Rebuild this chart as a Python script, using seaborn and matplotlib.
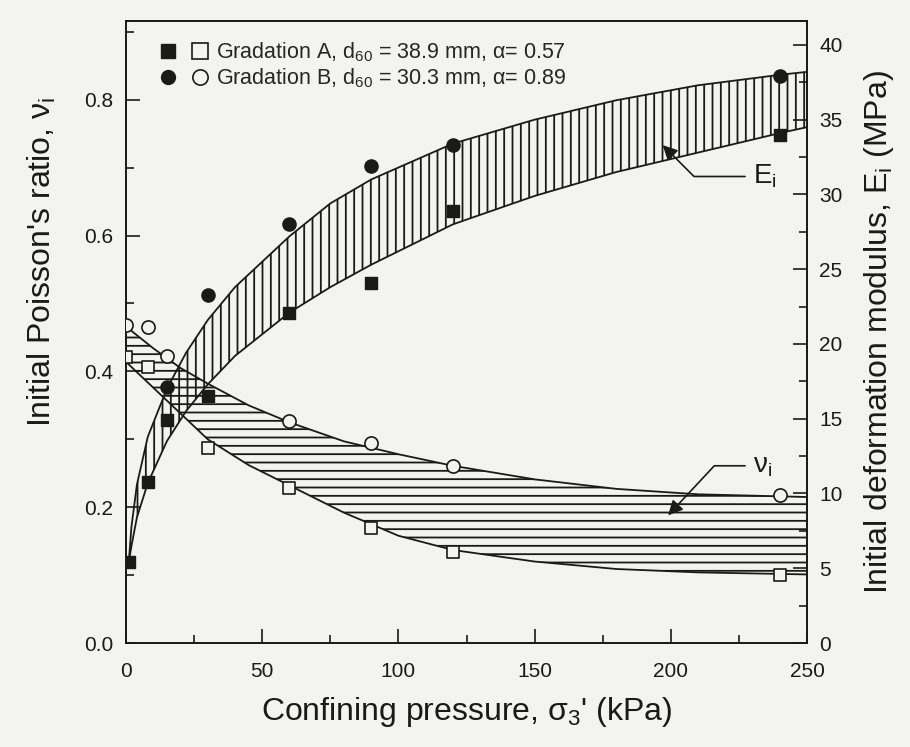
import matplotlib
matplotlib.use("Agg")
import matplotlib.pyplot as plt
import pandas as pd
import seaborn as sns
from matplotlib.legend_handler import HandlerTuple
from matplotlib.lines import Line2D
from matplotlib.ticker import MultipleLocator

# measured points: initial Poisson's ratio (open markers, left axis)
nu_a_x = [0, 8, 30, 60, 90, 120, 240]
nu_a = [0.421, 0.407, 0.287, 0.228, 0.169, 0.134, 0.100]
nu_b_x = [0, 8, 15, 60, 90, 120, 240]
nu_b = [0.468, 0.465, 0.423, 0.327, 0.295, 0.261, 0.218]

# measured points: initial deformation modulus in MPa (filled markers, right axis)
e_a_x = [1, 8, 15, 30, 60, 90, 120, 240]
e_a = [5.4, 10.8, 14.9, 16.5, 22.1, 24.1, 28.9, 34.0]
e_b_x = [15, 30, 60, 90, 120, 240]
e_b = [17.1, 23.3, 28.0, 31.9, 33.3, 37.9]

# band boundaries
e_band_x = [1, 2, 4, 8, 15, 22, 30, 40, 60, 75, 90, 120, 150, 180, 210, 240, 250]
e_band_hi = [5.4, 7.8, 10.6, 13.8, 17.0, 19.4, 21.6, 23.8, 27.2, 29.4, 31.0, 33.4,
             35.0, 36.3, 37.3, 38.0, 38.2]
e_band_lo = [5.4, 6.5, 8.4, 10.7, 13.5, 15.5, 17.3, 19.2, 22.1, 23.8, 25.3, 28.0,
             29.9, 31.5, 32.8, 34.1, 34.5]

nu_band_x = [0, 10, 20, 30, 45, 60, 80, 100, 120, 150, 180, 210, 250]
nu_band_hi = [0.466, 0.434, 0.405, 0.382, 0.350, 0.325, 0.297, 0.278, 0.261, 0.241,
              0.227, 0.219, 0.215]
nu_band_lo = [0.414, 0.376, 0.338, 0.300, 0.262, 0.232, 0.192, 0.158, 0.137, 0.120,
              0.109, 0.104, 0.101]

legend_labels = [
    r"Gradation A, d$_{60}$ = 38.9 mm, $\alpha$= 0.57",
    r"Gradation B, d$_{60}$ = 30.3 mm, $\alpha$= 0.89",
]

BG = "#f3f3f1"
INK = "#1a1a1a"

sns.set_theme(style="ticks")
plt.rcParams["font.family"] = ["Liberation Sans", "DejaVu Sans"]
plt.rcParams["mathtext.default"] = "regular"
plt.rcParams["hatch.linewidth"] = 1.3
plt.rcParams["hatch.color"] = INK

fig, ax = plt.subplots(figsize=(9.1, 7.47), dpi=100)
fig.patch.set_facecolor(BG)
fig.subplots_adjust(left=0.1385, right=0.8868, bottom=0.1392, top=0.9719)
ax2 = ax.twinx()

nu_band = pd.DataFrame({"x": nu_band_x, "hi": nu_band_hi, "lo": nu_band_lo})
e_band = pd.DataFrame({"x": e_band_x, "hi": e_band_hi, "lo": e_band_lo})

# Poisson's ratio band (horizontal hatching)
ax.fill_between(nu_band["x"], nu_band["lo"], nu_band["hi"], facecolor="none",
                edgecolor=INK, hatch="--", linewidth=0)
for col in ["hi", "lo"]:
    sns.lineplot(data=nu_band, x="x", y=col, ax=ax, color=INK, lw=1.3,
                 estimator=None, sort=False, legend=False)

# modulus band (vertical hatching)
ax2.fill_between(e_band["x"], e_band["lo"], e_band["hi"], facecolor="none",
                 edgecolor=INK, hatch="||", linewidth=0)
for col in ["hi", "lo"]:
    sns.lineplot(data=e_band, x="x", y=col, ax=ax2, color=INK, lw=1.3,
                 estimator=None, sort=False, legend=False)

# measured points
sns.scatterplot(x=nu_a_x, y=nu_a, ax=ax, marker="s", s=85,
                color=BG, edgecolor=INK, linewidth=1.2, zorder=6)
sns.scatterplot(x=nu_b_x, y=nu_b, ax=ax, marker="o", s=90,
                color=BG, edgecolor=INK, linewidth=1.2, zorder=6)
sns.scatterplot(x=e_a_x, y=e_a, ax=ax2, marker="s", s=85,
                color=INK, edgecolor=INK, linewidth=1.0, zorder=6)
sns.scatterplot(x=e_b_x, y=e_b, ax=ax2, marker="o", s=90,
                color=INK, edgecolor=INK, linewidth=1.0, zorder=6)
# keep the open markers above the hatching drawn on the twin axes
ax.set_zorder(ax2.get_zorder() + 1)
ax.patch.set_visible(False)

# axes ranges and ticks
ax.set_xlim(0, 250)
ax.set_ylim(0, 0.916)
ax2.set_ylim(0, 41.6)
ax.xaxis.set_major_locator(MultipleLocator(50))
ax.xaxis.set_minor_locator(MultipleLocator(25))
ax.yaxis.set_major_locator(MultipleLocator(0.2))
ax.yaxis.set_minor_locator(MultipleLocator(0.1))
ax2.yaxis.set_major_locator(MultipleLocator(5))
ax2.yaxis.set_minor_locator(MultipleLocator(2.5))
ax.yaxis.set_major_formatter(lambda v, p: f"{v:.1f}")

for a in (ax, ax2):
    for sp in a.spines.values():
        sp.set_linewidth(1.3)
        sp.set_color(INK)
ax.tick_params(which="both", direction="in", width=1.2, colors=INK, top=False, right=False)
ax.tick_params(which="major", length=10, labelsize=15)
ax.tick_params(which="minor", length=6)
ax.tick_params(axis="x", which="major", pad=14)
ax.tick_params(axis="y", which="major", pad=9)
ax2.tick_params(which="both", direction="in", width=1.2, colors=INK, left=False)
ax2.tick_params(which="major", length=10, labelsize=15, pad=9)
ax2.tick_params(which="minor", length=6)

ax.set_xlabel(r"Confining pressure, $\sigma_3$' (kPa)", fontsize=23, labelpad=10, color=INK)
ax.set_ylabel(r"Initial Poisson's ratio, $\nu_i$", fontsize=23, color=INK)
ax.yaxis.set_label_coords(-0.100, 0.612)
ax2.set_ylabel(r"Initial deformation modulus, $E_i$ (MPa)", fontsize=23, labelpad=14,
               color=INK)

# legend: filled marker for modulus, open marker for Poisson's ratio
handles = [
    (Line2D([], [], marker="s", ls="", ms=10, mfc=INK, mec=INK),
     Line2D([], [], marker="s", ls="", ms=11, mfc=BG, mec=INK, mew=1.2)),
    (Line2D([], [], marker="o", ls="", ms=10, mfc=INK, mec=INK),
     Line2D([], [], marker="o", ls="", ms=11, mfc=BG, mec=INK, mew=1.2)),
]
ax.legend(handles, legend_labels, handler_map={tuple: HandlerTuple(ndivide=None, pad=1.0)},
          loc="upper left", frameon=False, fontsize=15.5, handlelength=2.0,
          handletextpad=0.5, borderaxespad=0.5, labelspacing=0.1,
          bbox_to_anchor=(0.025, 1.0))

# leader labels for the two bands
ax2.annotate(r"$E_i$", xy=(197, 33.3), xytext=(230, 31.2), fontsize=20, ha="left",
             va="center", color=INK,
             arrowprops=dict(arrowstyle="-|>", connectionstyle="angle,angleA=0,angleB=135,rad=0",
                             color=INK, lw=1.2, mutation_scale=22, relpos=(0, 0.5),
                             shrinkA=3, shrinkB=0))
ax.annotate(r"$\nu_i$", xy=(199, 0.188), xytext=(230, 0.261), fontsize=20, ha="left",
            va="center", color=INK,
            arrowprops=dict(arrowstyle="-|>", connectionstyle="angle,angleA=0,angleB=47,rad=0",
                            color=INK, lw=1.2, mutation_scale=22, relpos=(0, 0.5),
                            shrinkA=3, shrinkB=0))

fig.savefig("out.png", dpi=100, facecolor=BG)
